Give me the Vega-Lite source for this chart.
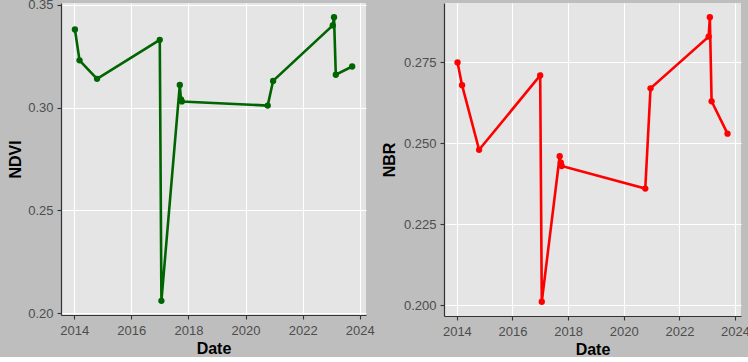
{
  "$schema": "https://vega.github.io/schema/vega-lite/v6.json",
  "background": "#bebebe",
  "padding": {"left": 7, "top": -2, "right": 0, "bottom": 0},
  "bounds": "flush",
  "spacing": 78,
  "config": {
    "font": "Liberation Sans",
    "view": {"fill": "#e5e5e5", "stroke": null},
    "axis": {
      "domainColor": "#333333",
      "domainWidth": 1.2,
      "tickColor": "#333333",
      "tickSize": 4,
      "tickWidth": 1.1,
      "labelColor": "#4d4d4d",
      "labelFont": "Liberation Sans",
      "labelFontSize": 13,
      "labelPadding": 4,
      "titleFont": "Liberation Sans",
      "titleFontSize": 16,
      "titleFontWeight": "bold",
      "titleColor": "#000000",
      "gridColor": "#ffffff",
      "gridWidth": 1.1,
      "gridOpacity": 1
    }
  },
  "data": {
    "values": [
      {"Date": "2014-01-10", "NDVI": 0.338, "NBR": 0.275},
      {"Date": "2014-03-10", "NDVI": 0.323, "NBR": 0.268},
      {"Date": "2014-10-20", "NDVI": 0.314, "NBR": 0.248},
      {"Date": "2016-12-30", "NDVI": 0.333, "NBR": 0.271},
      {"Date": "2017-01-20", "NDVI": 0.206, "NBR": 0.201},
      {"Date": "2017-09-12", "NDVI": 0.311, "NBR": 0.246},
      {"Date": "2017-09-27", "NDVI": 0.304, "NBR": 0.244},
      {"Date": "2017-10-08", "NDVI": 0.303, "NBR": 0.243},
      {"Date": "2020-10-10", "NDVI": 0.301, "NBR": 0.236},
      {"Date": "2020-12-18", "NDVI": 0.313, "NBR": 0.267},
      {"Date": "2023-01-20", "NDVI": 0.340, "NBR": 0.283},
      {"Date": "2023-02-05", "NDVI": 0.344, "NBR": 0.289},
      {"Date": "2023-02-28", "NDVI": 0.316, "NBR": 0.263},
      {"Date": "2023-09-25", "NDVI": 0.320, "NBR": 0.253}
    ]
  },
  "hconcat": [
    {
      "width": 305,
      "height": 312,
      "mark": {"type": "line", "color": "#006400", "strokeWidth": 2.6, "point": {"filled": true, "size": 40, "color": "#006400"}},
      "encoding": {
        "x": {
          "field": "Date", "type": "temporal", "title": "Date",
          "scale": {"domain": [{"year": 2013, "month": 7, "date": 16}, {"year": 2024, "month": 3, "date": 20}]},
          "axis": {"format": "%Y", "values": [{"year": 2014, "month": 1, "date": 1}, {"year": 2016, "month": 1, "date": 1}, {"year": 2018, "month": 1, "date": 1}, {"year": 2020, "month": 1, "date": 1}, {"year": 2022, "month": 1, "date": 1}, {"year": 2024, "month": 1, "date": 1}], "labelPadding": 5, "titlePadding": 3}
        },
        "y": {
          "field": "NDVI", "type": "quantitative", "title": "NDVI",
          "scale": {"domain": [0.1991, 0.3509], "nice": false, "zero": false},
          "axis": {"values": [0.2, 0.25, 0.3, 0.35], "format": ".2f", "titlePadding": 4}
        }
      }
    },
    {
      "width": 297,
      "height": 313,
      "mark": {"type": "line", "color": "#ff0000", "strokeWidth": 2.6, "point": {"filled": true, "size": 40, "color": "#ff0000"}},
      "encoding": {
        "x": {
          "field": "Date", "type": "temporal", "title": "Date",
          "scale": {"domain": [{"year": 2013, "month": 7, "date": 16}, {"year": 2024, "month": 3, "date": 20}]},
          "axis": {"format": "%Y", "values": [{"year": 2014, "month": 1, "date": 1}, {"year": 2016, "month": 1, "date": 1}, {"year": 2018, "month": 1, "date": 1}, {"year": 2020, "month": 1, "date": 1}, {"year": 2022, "month": 1, "date": 1}, {"year": 2024, "month": 1, "date": 1}], "labelPadding": 5, "titlePadding": 3}
        },
        "y": {
          "field": "NBR", "type": "quantitative", "title": "NBR",
          "scale": {"domain": [0.1966, 0.2934], "nice": false, "zero": false},
          "axis": {"values": [0.2, 0.225, 0.25, 0.275], "format": ".3f", "titlePadding": 6}
        }
      }
    }
  ]
}
